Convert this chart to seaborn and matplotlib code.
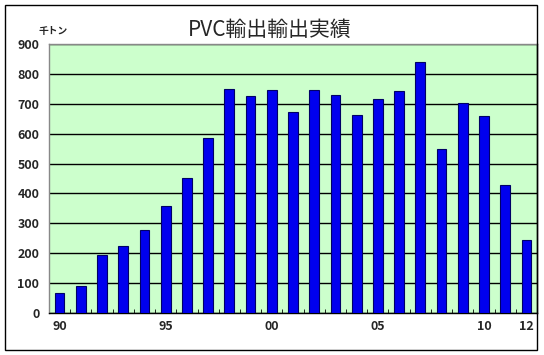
import matplotlib
matplotlib.use("Agg")
import matplotlib.pyplot as plt
from matplotlib.patches import Rectangle
from matplotlib.ticker import MultipleLocator, FixedLocator
import seaborn as sns
import pandas as pd

years = [str(y) for y in range(1990, 2013)]
exports = [67, 90, 194, 224, 278, 358, 451, 585, 749, 726, 746, 672,
           746, 729, 662, 716, 742, 839, 548, 702, 659, 428, 244]
tick_pos = [0, 5, 10, 15, 20, 22]
tick_labels = ["90", "95", "00", "05", "10", "12"]

sns.set_style("white")
plt.rcParams['font.family'] = ['Noto Sans CJK JP', 'DejaVu Sans']

df = pd.DataFrame({"year": years, "exports": exports})

fig = plt.figure(figsize=(5.44, 3.55), dpi=100)
ax = fig.add_axes([49 / 544, 1 - 313 / 355, 488 / 544, 269 / 355])
ax.set_facecolor("#ccffcc")

sns.barplot(data=df, x="year", y="exports", color="#0000ee", width=0.46,
            edgecolor="#000066", linewidth=0.8, saturation=1, ax=ax, zorder=3)

ax.set_ylim(0, 900)
ax.set_xlim(-0.5, 22.5)
ax.yaxis.set_major_locator(MultipleLocator(100))
ax.grid(axis="y", color="black", linewidth=1, zorder=1)
ax.set_axisbelow(True)

ax.set_xticks(tick_pos)
ax.set_xticklabels(tick_labels, fontweight="bold", fontsize=9)
ax.xaxis.set_minor_locator(FixedLocator([i + 0.5 for i in range(-1, 23)]))
ax.tick_params(axis="x", which="major", length=0, pad=5)
ax.tick_params(axis="x", which="minor", direction="in", length=3, color="black", bottom=True)
ax.tick_params(axis="y", length=0, pad=7)
for lab in ax.get_yticklabels():
    lab.set_fontweight("bold")
    lab.set_fontsize(9)

ax.set_xlabel("")
ax.set_ylabel("")

ax.spines["top"].set_color("#888888")
ax.spines["left"].set_color("#888888")
ax.spines["bottom"].set_color("black")
ax.spines["right"].set_color("black")
for s in ax.spines.values():
    s.set_linewidth(1)

fig.text(270 / 544, 1 - 30 / 355, "PVC輸出輸出実績", ha="center", va="center", fontsize=15)
fig.text(53 / 544, 1 - 31 / 355, "千トン", ha="center", va="center", fontsize=7, fontweight="bold")

fig.patches.append(Rectangle((5 / 544, 1 - 350 / 355), 532 / 544, 345 / 355,
                             transform=fig.transFigure, fill=False,
                             edgecolor="black", linewidth=1))

fig.savefig("out.png", dpi=100)
